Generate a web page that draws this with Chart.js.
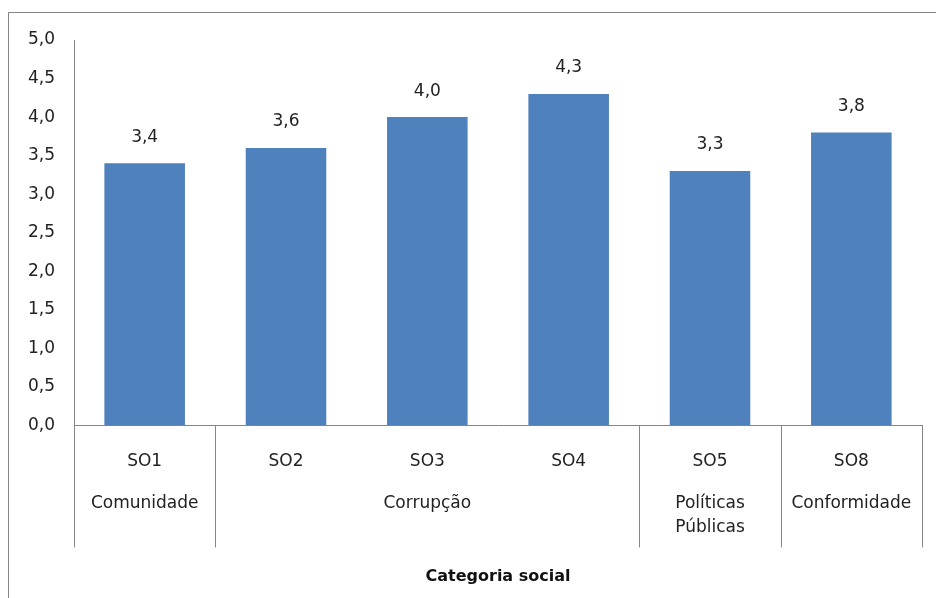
<!DOCTYPE html>
<html>
<head>
<meta charset="utf-8">
<script src="https://cdn.jsdelivr.net/npm/chart.js@4.4.1/dist/chart.umd.min.js"></script>
<style>
  html, body { margin: 0; padding: 0; background: #fff; }
  #wrap { width: 936px; height: 598px; }
</style>
</head>
<body>
<div id="wrap"><canvas id="chart" width="936" height="598"></canvas></div>
<script>
// indicator codes and their mean scores
const codes = ['SO1', 'SO2', 'SO3', 'SO4', 'SO5', 'SO8'];
const scores = [3.4, 3.6, 4.0, 4.3, 3.3, 3.8];

// second row of the category axis: each group covers groupSpans[i] bars
const groupNames = [['Comunidade'], ['Corrupção'], ['Políticas', 'Públicas'], ['Conformidade']];
const groupSpans = [1, 3, 1, 1];

const axisTitle = 'Categoria social';

const FONT = '"DejaVu Sans", Verdana, sans-serif';
const LINE = '#868686';
const TEXT = '#222';

const comma = v => v.toFixed(1).replace('.', ',');

// frame around the whole figure
const framePlugin = {
  id: 'frame',
  beforeDraw(chart) {
    const ctx = chart.ctx;
    ctx.save();
    ctx.strokeStyle = LINE;
    ctx.lineWidth = 1;
    ctx.strokeRect(8.5, 12.5, chart.width, chart.height);
    ctx.restore();
  }
};

// value labels above the bars
const valuePlugin = {
  id: 'values',
  afterDatasetsDraw(chart) {
    const ctx = chart.ctx;
    const meta = chart.getDatasetMeta(0);
    ctx.save();
    ctx.font = '17px ' + FONT;
    ctx.fillStyle = TEXT;
    ctx.textAlign = 'center';
    ctx.textBaseline = 'middle';
    meta.data.forEach((bar, i) => {
      ctx.fillText(comma(scores[i]), bar.x, bar.y - 26);
    });
    ctx.restore();
  }
};

// group labels and the vertical dividers under the x axis
const groupPlugin = {
  id: 'groups',
  afterDraw(chart) {
    const ctx = chart.ctx;
    const x = chart.scales.x;
    const bottom = chart.chartArea.bottom;
    ctx.save();
    ctx.strokeStyle = LINE;
    ctx.lineWidth = 1;
    let start = 0;
    const edges = [start];
    groupSpans.forEach(s => { start += s; edges.push(start); });
    edges.forEach(e => {
      const px = Math.round(x.getPixelForValue(e - 0.5)) + 0.5;
      ctx.beginPath();
      ctx.moveTo(px, bottom);
      ctx.lineTo(px, bottom + 122);
      ctx.stroke();
    });
    ctx.font = '17px ' + FONT;
    ctx.fillStyle = TEXT;
    ctx.textAlign = 'center';
    ctx.textBaseline = 'middle';
    groupNames.forEach((lines, g) => {
      const a = x.getPixelForValue(edges[g] - 0.5);
      const b = x.getPixelForValue(edges[g + 1] - 0.5);
      lines.forEach((t, k) => ctx.fillText(t, (a + b) / 2, bottom + 78 + k * 24));
    });
    ctx.restore();
  }
};

new Chart(document.getElementById('chart'), {
  type: 'bar',
  data: {
    labels: codes,
    datasets: [{
      data: scores,
      backgroundColor: '#4F81BD',
      barPercentage: 0.57,
      categoryPercentage: 1
    }]
  },
  options: {
    responsive: false,
    devicePixelRatio: 1,
    animation: false,
    layout: { padding: { top: 40, right: 14, bottom: 8, left: 0 } },
    plugins: {
      legend: { display: false },
      tooltip: { enabled: false }
    },
    scales: {
      x: {
        grid: { display: false },
        border: { display: true, color: LINE, width: 1 },
        ticks: { color: TEXT, font: { family: FONT, size: 17 }, padding: 18, maxRotation: 0 },
        title: {
          display: true,
          text: axisTitle,
          color: '#111',
          font: { family: FONT, size: 16, weight: 'bold' },
          padding: { top: 77, bottom: 4 }
        }
      },
      y: {
        min: 0,
        max: 5,
        grid: { display: false },
        border: { display: true, color: LINE, width: 1 },
        ticks: { stepSize: 0.5, color: TEXT, font: { family: FONT, size: 17 }, padding: 11, callback: v => comma(v) },
        afterFit(scale) { scale.width = 74; }
      }
    }
  },
  plugins: [framePlugin, valuePlugin, groupPlugin]
});
</script>
</body>
</html>
